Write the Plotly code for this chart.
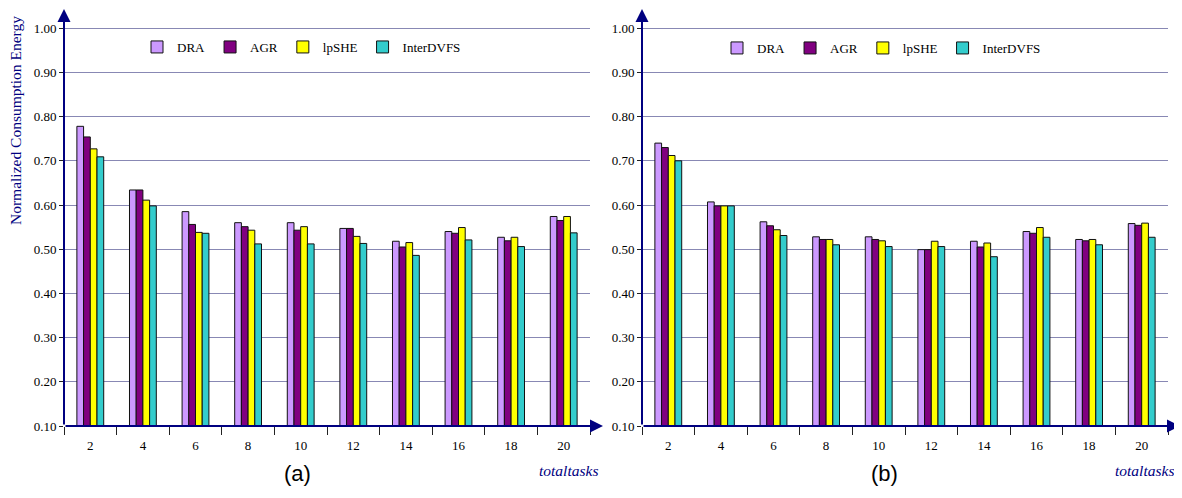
import plotly.graph_objects as go

# ---------------- data ----------------
tasks = ["2", "4", "6", "8", "10", "12", "14", "16", "18", "20"]
series_names = ["DRA", "AGR", "lpSHE", "InterDVFS"]
series_colors = ["#CC99FF", "#800080", "#FFFF00", "#33CCCC"]

a_dra = [0.778, 0.634, 0.585, 0.560, 0.560, 0.547, 0.518, 0.540, 0.527, 0.574]
a_agr = [0.754, 0.634, 0.556, 0.551, 0.543, 0.547, 0.505, 0.536, 0.519, 0.565]
a_lpshe = [0.727, 0.611, 0.538, 0.543, 0.551, 0.529, 0.515, 0.549, 0.527, 0.574]
a_inter = [0.709, 0.598, 0.536, 0.512, 0.512, 0.513, 0.486, 0.521, 0.506, 0.537]

b_dra = [0.740, 0.607, 0.562, 0.528, 0.528, 0.499, 0.518, 0.540, 0.522, 0.558]
b_agr = [0.730, 0.598, 0.553, 0.522, 0.522, 0.499, 0.505, 0.536, 0.519, 0.554]
b_lpshe = [0.712, 0.598, 0.544, 0.522, 0.519, 0.518, 0.514, 0.549, 0.522, 0.559]
b_inter = [0.700, 0.598, 0.531, 0.510, 0.506, 0.506, 0.483, 0.527, 0.510, 0.527]

y_ticks = [0.1, 0.2, 0.3, 0.4, 0.5, 0.6, 0.7, 0.8, 0.9, 1.0]
y_title = "Normalized Consumption Energy"
x_title = "totaltasks"
panel_labels = ["(a)", "(b)"]

# ---------------- layout helpers ----------------
OFF = 8                      # page body margin in the browser
W, H = 1182 - OFF, 498 - 2 * OFF  # figure size so it fits the window
SERIF = "Liberation Serif, Times New Roman, serif"
NAVY = "#000080"
GRID = "#8888B4"
Y_TOP = 0.1 + (426 - OFF) / 442.0   # value at the top edge of the figure


def px(x):
    return (x - OFF) / W


def py(y):
    return 1 - (y - OFF) / H


fig = go.Figure()

panels = [
    (a_dra, a_agr, a_lpshe, a_inter, "x", "y", "legend"),
    (b_dra, b_agr, b_lpshe, b_inter, "x2", "y2", "legend2"),
]
for dra, agr, lps, inter, xa, ya, lg in panels:
    for name, vals, col in zip(series_names, [dra, agr, lps, inter], series_colors):
        fig.add_trace(go.Bar(
            x=tasks, y=vals, name=name, xaxis=xa, yaxis=ya, legend=lg,
            marker=dict(color=col, line=dict(color="#111111", width=1)),
            hovertemplate="%{x}: %{y:.3f}<extra>" + name + "</extra>",
        ))

dom_left = [px(64), px(590)]
dom_right = [px(642), px(1168)]
dom_y = [py(426), 1.0]

xcommon = dict(type="category", showgrid=False, showline=False, zeroline=False,
               ticks="outside", tickson="boundaries", ticklen=8, tickcolor="#222222",
               tickwidth=1, tickfont=dict(family=SERIF, size=13, color="#000000"),
               ticklabelstandoff=10, automargin=False)
ycommon = dict(range=[0.1, Y_TOP], tickvals=y_ticks, tickformat=".2f",
               showgrid=True, gridcolor=GRID, gridwidth=1, showline=False,
               zeroline=False, ticks="outside", ticklen=4, tickcolor="#222222",
               tickfont=dict(family=SERIF, size=13, color="#000000"),
               automargin=False)

legcommon = dict(orientation="h", font=dict(family=SERIF, size=13, color="#000000"),
                 bgcolor="rgba(0,0,0,0)", yanchor="middle", xanchor="left",
                 itemwidth=30, tracegroupgap=0)

fig.update_layout(
    width=W, height=H,
    margin=dict(l=0, r=0, t=0, b=0),
    paper_bgcolor="white", plot_bgcolor="white",
    barmode="group", bargap=0.49, bargroupgap=0.0,
    xaxis=dict(domain=dom_left, anchor="y", **xcommon),
    yaxis=dict(domain=dom_y, anchor="x", **ycommon),
    xaxis2=dict(domain=dom_right, anchor="y2", **xcommon),
    yaxis2=dict(domain=dom_y, anchor="x2", **ycommon),
    legend=dict(x=px(137), y=py(47), **legcommon),
    legend2=dict(x=px(717), y=py(48), **legcommon),
    showlegend=True,
)

annotations = []
# axis arrows
for xl, xr_tip in [(64, 603), (642, 1180)]:
    annotations.append(dict(xref="paper", yref="paper", x=px(xl), y=py(9),
                            ax=0, ay=426 - 9, axref="pixel", ayref="pixel",
                            showarrow=True, arrowhead=2, arrowsize=1.3, arrowwidth=2,
                            arrowcolor=NAVY, text=""))
    annotations.append(dict(xref="paper", yref="paper", x=px(xr_tip), y=py(426),
                            ax=-(xr_tip - xl), ay=0, axref="pixel", ayref="pixel",
                            showarrow=True, arrowhead=2, arrowsize=1.3, arrowwidth=2,
                            arrowcolor=NAVY, text=""))

# y title
annotations.append(dict(xref="paper", yref="paper", x=px(15), y=py(121),
                        xanchor="center", yanchor="middle",
                        text=y_title, textangle=-90, showarrow=False,
                        font=dict(family=SERIF, size=15.5, color=NAVY)))
# x titles
for xc in [568, 1144]:
    annotations.append(dict(xref="paper", yref="paper", x=px(xc), y=py(470),
                            xanchor="center", yanchor="middle",
                            text="<i>" + x_title + "</i>", showarrow=False,
                            font=dict(family=SERIF, size=15.5, color=NAVY)))
# panel labels
for lab, xc in zip(panel_labels, [297, 884]):
    annotations.append(dict(xref="paper", yref="paper", x=px(xc), y=py(473),
                            xanchor="center", yanchor="middle",
                            text=lab, showarrow=False,
                            font=dict(family="Liberation Sans, Arial, sans-serif",
                                      size=22, color="#000000")))

fig.update_layout(annotations=annotations)

fig.write_html("out.html")
